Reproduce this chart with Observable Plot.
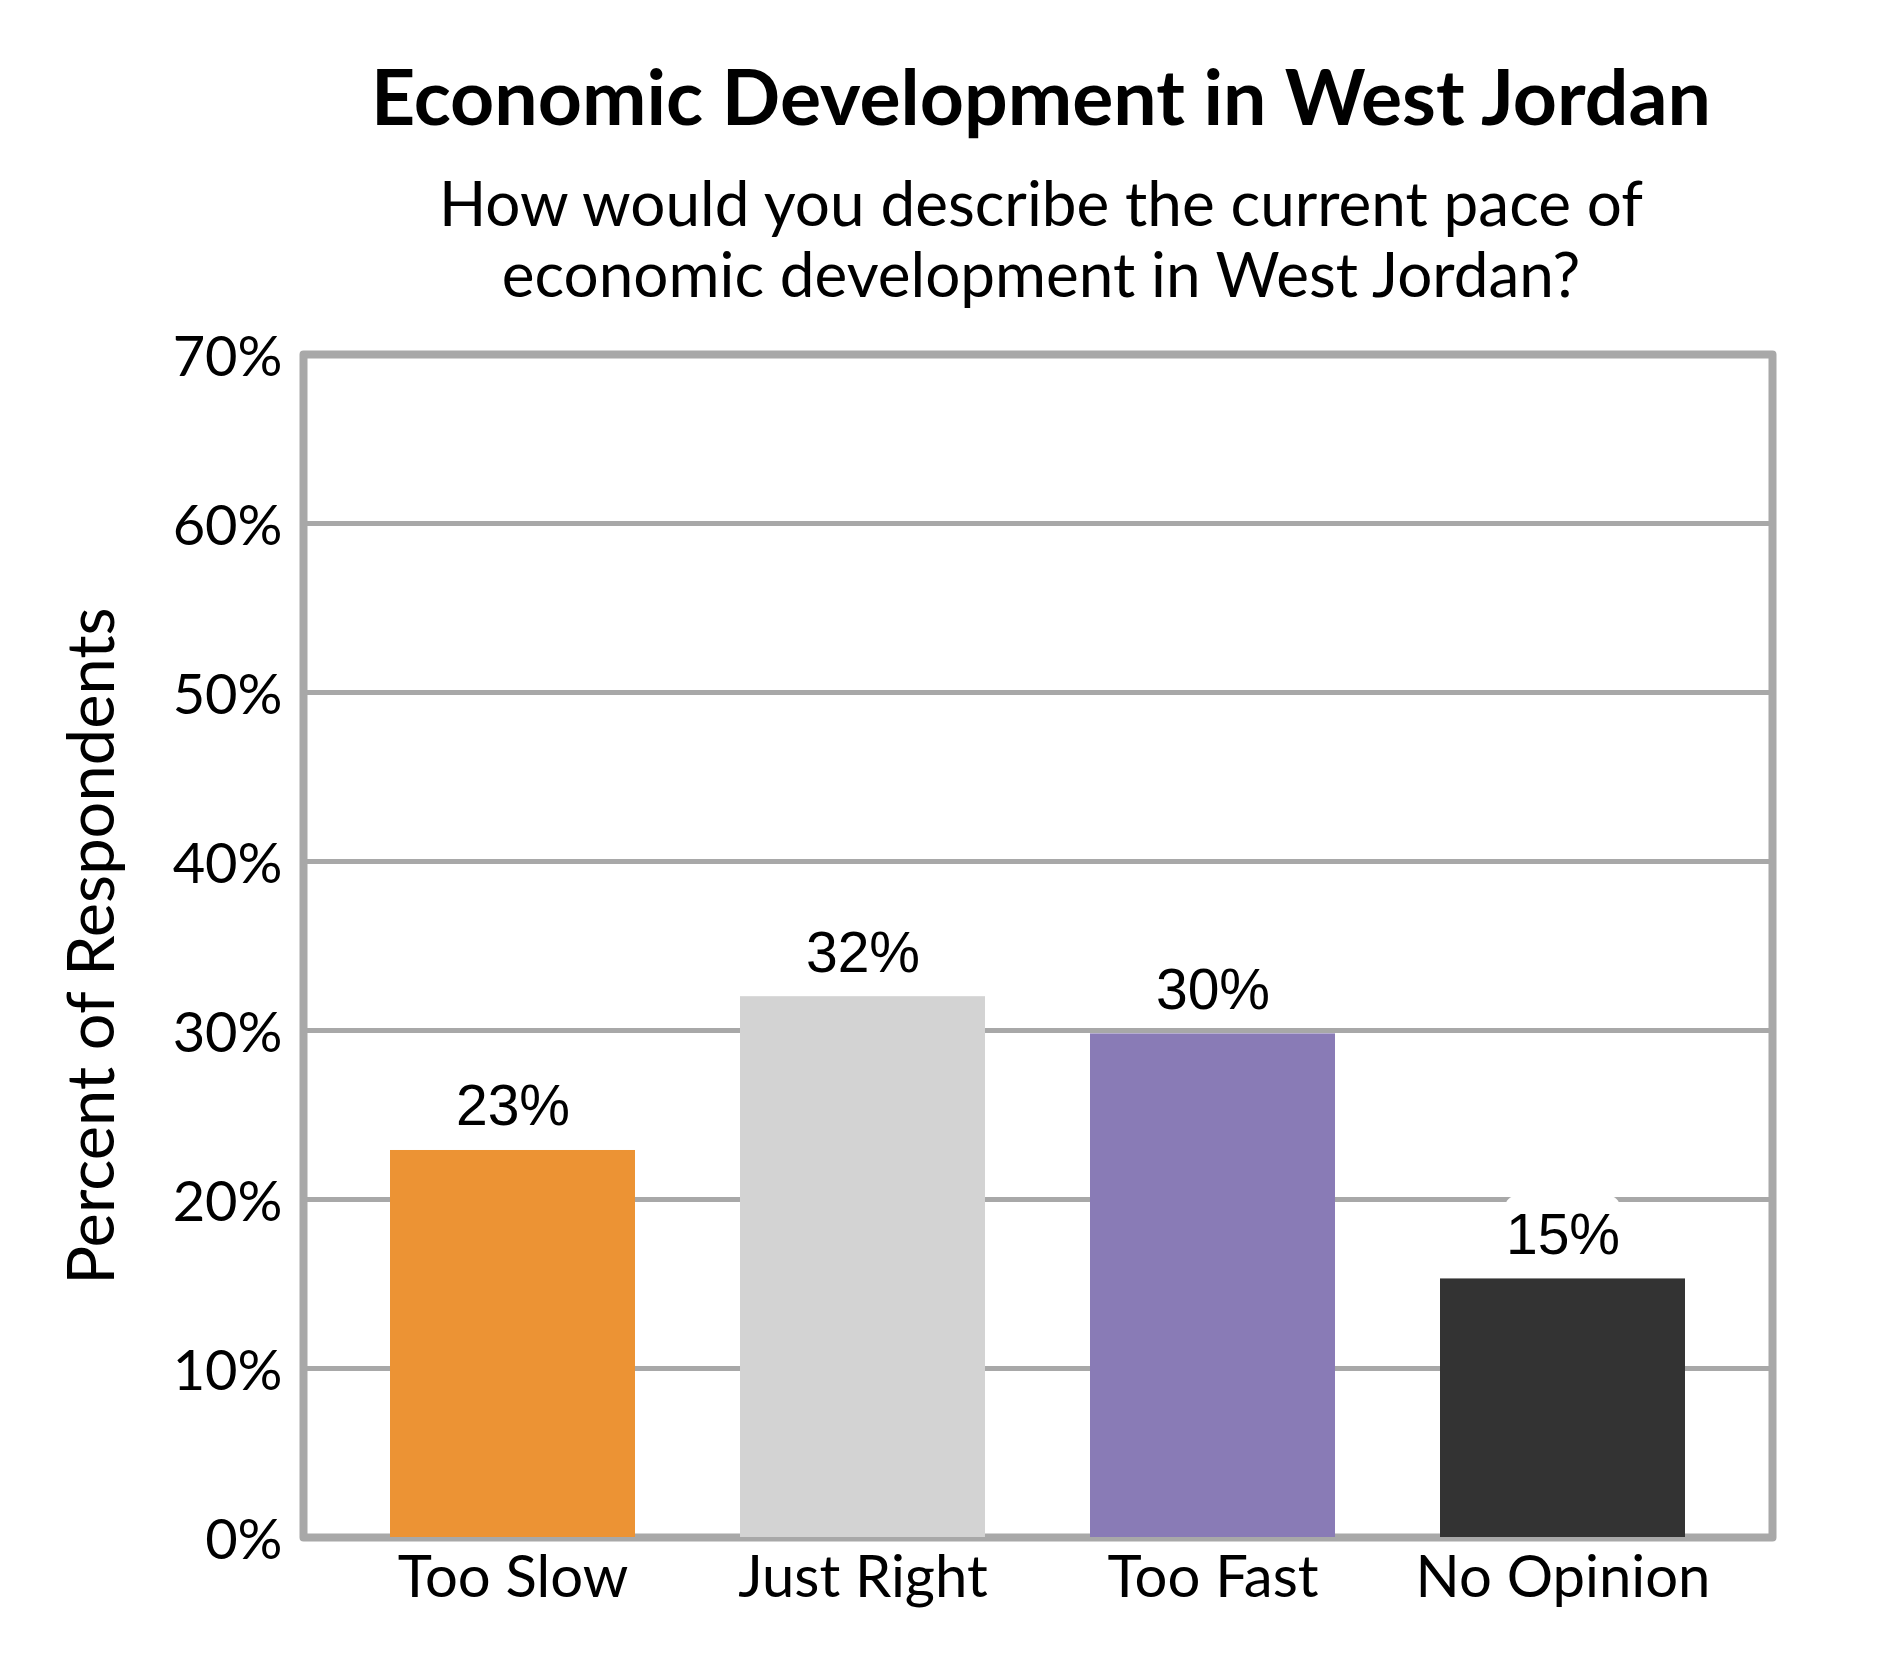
<!DOCTYPE html>
<html>
<head>
<meta charset="utf-8">
<script src="https://cdn.jsdelivr.net/npm/d3@7"></script>
<script src="https://cdn.jsdelivr.net/npm/@observablehq/plot@0.6"></script>
<style>
  html, body { margin: 0; padding: 0; background: #fff; }
  #wrap { position: relative; width: 1890px; height: 1680px; overflow: hidden; background: #fff; }
  .title { position: absolute; left: 192px; width: 1698px; top: 57px; text-align: center;
           font-family: Lato, sans-serif; font-weight: 700; font-size: 77px; line-height: 77px; color: #000; white-space: nowrap; }
  .subtitle { position: absolute; left: 192px; width: 1698px; top: 167px; text-align: center;
              font-family: Lato, sans-serif; font-weight: 400; font-size: 62px; line-height: 71px; color: #000; white-space: nowrap; }
  #chart { position: absolute; left: 0; top: 300px; }
</style>
</head>
<body>
<div id="wrap">
  <div class="title">Economic Development in West Jordan</div>
  <div class="subtitle">How would you describe the current pace of<br>economic development in West Jordan?</div>
  <div id="chart"></div>
</div>
<script>
const categories = ["Too Slow", "Just Right", "Too Fast", "No Opinion"];
const values = [22.9, 32.0, 29.8, 15.3];
const valueLabels = ["23%", "32%", "30%", "15%"];
const barColors = ["#EC9334", "#D3D3D3", "#897BB6", "#333333"];
const yTicks = [0, 10, 20, 30, 40, 50, 60, 70];
const yTickLabels = ["0%", "10%", "20%", "30%", "40%", "50%", "60%", "70%"];
const gridValues = [10, 20, 30, 40, 50, 60];
const yLabel = "Percent of Respondents";

const data = categories.map((c, i) => ({category: c, value: values[i], label: valueLabels[i]}));
const gray = "#A8A8A8";

const chart = Plot.plot({
  width: 1890,
  height: 1380,
  marginTop: 54,
  marginBottom: 143,
  marginLeft: 303,
  marginRight: 118,
  style: {fontFamily: "Lato, sans-serif", background: "transparent", color: "#000", overflow: "visible"},
  x: {domain: categories, paddingInner: 0.3, paddingOuter: 0.247, axis: null},
  y: {domain: [0, 70], axis: null},
  color: {domain: categories, range: barColors},
  marks: [
    Plot.ruleY(gridValues, {stroke: gray, strokeWidth: 5}),
    Plot.frame({stroke: gray, strokeWidth: 8, strokeLinejoin: "round"}),
    Plot.barY(data, {x: "category", y: "value", fill: "category"}),
    // white label background boxes
    Plot.barY(data, {x: "category", y1: "value", y2: "value", fill: "#fff",
      insetTop: -83, insetBottom: 25, insetLeft: 65, insetRight: 65, rx: 12}),
    Plot.text(data, {x: "category", y: "value", text: "label", lineAnchor: "bottom", dy: -25,
      fontFamily: "'Liberation Sans', Arial, sans-serif", fontSize: 57, fill: "#000"}),
    Plot.axisX(categories, {tickSize: 0, tickPadding: 18, fontSize: 58, fill: "#000", label: null}),
    Plot.axisY(yTicks, {tickSize: 0, tickPadding: 21, fontSize: 56, fill: "#000", label: null,
      tickFormat: (d) => yTickLabels[yTicks.indexOf(d)], dy: 4}),
    Plot.text([yLabel], {frameAnchor: "left", dx: -210, rotate: -90, textAnchor: "middle",
      lineAnchor: "middle", fontSize: 65, fill: "#000"})
  ]
});
document.getElementById("chart").appendChild(chart);
</script>
</body>
</html>
